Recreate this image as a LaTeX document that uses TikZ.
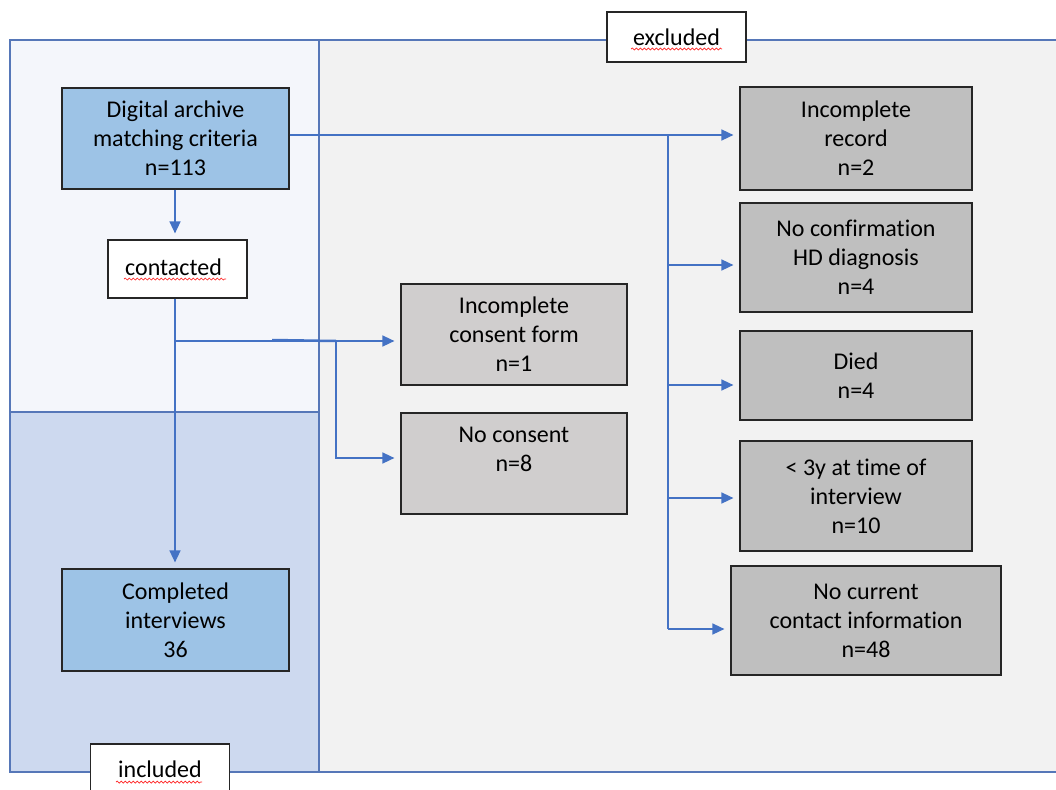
\documentclass[tikz,border=0pt]{standalone}
\usepackage{fontspec}
\setmainfont{Carlito}[Ligatures=NoCommon]
\usetikzlibrary{arrows.meta,decorations.pathmorphing}
\definecolor{frameblue}{RGB}{86,119,184}
\definecolor{linkblue}{RGB}{68,114,196}
\definecolor{panellight}{RGB}{244,246,251}
\definecolor{paneldark}{RGB}{205,217,239}
\definecolor{panelgrey}{RGB}{242,242,242}
\definecolor{boxblue}{RGB}{157,195,230}
\definecolor{boxpink}{RGB}{208,206,206}
\definecolor{boxgrey}{RGB}{191,191,191}

\begin{document}
\begin{tikzpicture}[x=1pt,y=-1pt,
  box/.style={draw=black!85,line width=1.2pt,align=center,inner sep=0pt,
    text=black,font=\fontsize{24}{29}\selectfont},
  tag/.style={box,fill=white,minimum width=139pt,minimum height=50pt},
  conn/.style={draw=linkblue,line width=1.5pt},
  arr/.style={conn,-{Triangle[length=12pt,width=11pt]},shorten >=6pt},
  wavy/.style={draw=red!85,line width=0.7pt,decorate,
    decoration={snake,segment length=4pt,amplitude=1pt}}]
  \useasboundingbox (0,0) rectangle (1056,789);

  % панели
  \fill[panellight] (10,40) rectangle (319,412);
  \fill[paneldark] (10,412) rectangle (319,772);
  \fill[panelgrey] (319,40) rectangle (1060,772);
  \draw[frameblue,line width=1.2pt] (1060,40) -- (10,40) -- (10,772) -- (1060,772)
    (319,40) -- (319,772) (10,412) -- (319,412);

  % подписи панелей
  \node[tag] (excl) at (676.5,37) {excluded};
  \node[tag,minimum height=50pt] (incl) at (160,769) {included};
  \draw[wavy] (631,49) -- (722,49);
  \draw[wavy] (116,782) -- (202,782);

  % левая колонка
  \node[box,fill=boxblue,minimum width=227pt,minimum height=101pt] (archive)
    at (175.5,138.5) {Digital archive\\matching criteria\\n=113};
  \node[tag,minimum height=58pt] (contacted) at (177.5,269) {\raisebox{3pt}{contacted}\hspace*{8pt}};
  \draw[wavy] (124,279) -- (226,279);
  \node[box,fill=boxblue,minimum width=227pt,minimum height=102pt] (done)
    at (175.5,620) {Completed\\interviews\\36};

  % согласие
  \node[box,fill=boxpink,minimum width=226pt,minimum height=101pt] (form)
    at (514,334.5) {Incomplete\\consent form\\n=1};
  \node[box,fill=boxpink,minimum width=226pt,minimum height=101pt] (nocons)
    at (514,463.5) {No consent\\n=8\\\mbox{}};

  % исключены
  \node[box,fill=boxgrey,minimum width=232pt,minimum height=103pt] (record)
    at (856,138.5) {Incomplete\\record\\n=2};
  \node[box,fill=boxgrey,minimum width=232pt,minimum height=109pt] (confirm)
    at (856,257.5) {No confirmation\\HD diagnosis\\n=4};
  \node[box,fill=boxgrey,minimum width=232pt,minimum height=89pt] (died)
    at (856,375.5) {Died\\n=4};
  \node[box,fill=boxgrey,minimum width=232pt,minimum height=110pt] (young)
    at (856,496) {< 3y at time of\\interview\\n=10};
  \node[box,fill=boxgrey,minimum width=270pt,minimum height=109pt] (nocontact)
    at (866,620.5) {No current\\contact information\\n=48};

  % точки ветвления
  \coordinate (t0) at (668,135);
  \coordinate (t1) at (668,265);
  \coordinate (t2) at (668,385);
  \coordinate (t3) at (668,498);
  \coordinate (t4) at (668,629);
  \coordinate (c0) at (175,341);
  \coordinate (c1) at (336,341);
  \coordinate (c2) at (336,458);

  % стрелки
  \draw[arr] (archive.south -| c0) -- (contacted.north -| c0);
  \draw[arr] (contacted.south -| c0) -- (done.north -| c0);
  \draw[arr] (c0) -- (c0 -| form.west);
  \draw[conn,line width=2.5pt] (272,340) -- (c1);
  \draw[arr] (c1) -- (c2) -- (c2 -| nocons.west);
  \draw[arr] (archive.east |- t0) -- (t0 -| record.west);
  \draw[conn] (t0) -- (t4);
  \draw[arr] (t1) -- (t1 -| confirm.west);
  \draw[arr] (t2) -- (t2 -| died.west);
  \draw[arr] (t3) -- (t3 -| young.west);
  \draw[arr] (t4) -- (t4 -| nocontact.west);
\end{tikzpicture}
\end{document}
